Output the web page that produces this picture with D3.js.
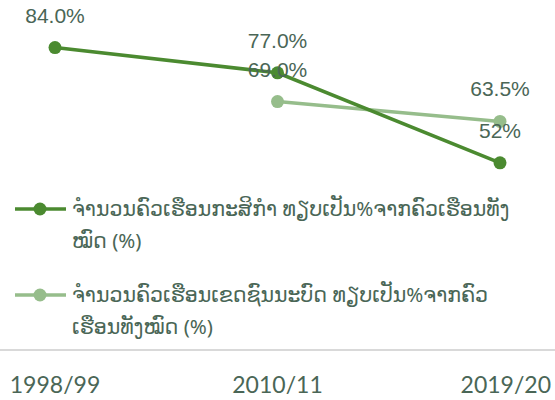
<!DOCTYPE html>
<html>
<head>
<meta charset="utf-8">
<script src="https://cdn.jsdelivr.net/npm/d3@7"></script>
<style>
  body { margin: 0; background: #fff; }
</style>
</head>
<body>
<div id="chart"></div>
<script>
// données
const categories = ["1998/99", "2010/11", "2019/20"];
const agriValues = [84.0, 77.0, 52];
const agriLabels = ["84.0%", "77.0%", "52%"];
const ruralCategories = ["2010/11", "2019/20"];
const ruralValues = [69.0, 63.5];
const ruralLabels = ["69.0%", "63.5%"];
const legendLines = [
  ["ຈຳນວນຄົວເຮືອນກະສິກຳ ທຽບເປັນ%ຈາກຄົວເຮືອນທັງ", "ໝົດ (%)"],
  ["ຈຳນວນຄົວເຮືອນເຂດຊົນນະບົດ ທຽບເປັນ%ຈາກຄົວ", "ເຮືອນທັງໝົດ (%)"]
];

const width = 555, height = 400;
const darkGreen = "#4b8a30", lightGreen = "#96bd8b", textColor = "#4a6656";

const svg = d3.select("#chart").append("svg")
  .attr("width", width).attr("height", height);

const x = d3.scalePoint().domain(categories).range([55, 500]);
const y = d3.scaleLinear().domain([0, 100]).range([350, -10]);

const line = d3.line().x(d => x(d.c)).y(d => y(d.v));

const series = [
  { color: darkGreen, pts: categories.map((c, i) => ({ c, v: agriValues[i], t: agriLabels[i] })) },
  { color: lightGreen, pts: ruralCategories.map((c, i) => ({ c, v: ruralValues[i], t: ruralLabels[i] })) }
];

// bottom axis line
svg.append("line")
  .attr("x1", 0).attr("x2", width)
  .attr("y1", 350).attr("y2", 350)
  .attr("stroke", "#d9d9d9").attr("stroke-width", 2);

// lines + dots (light series drawn first, dark on top)
series.slice().reverse().forEach(s => {
  svg.append("path")
    .datum(s.pts)
    .attr("d", line)
    .attr("fill", "none")
    .attr("stroke", s.color)
    .attr("stroke-width", 3.5);
  svg.selectAll(null).data(s.pts).join("circle")
    .attr("cx", d => x(d.c)).attr("cy", d => y(d.v))
    .attr("r", 6.5).attr("fill", s.color);
});

// data labels
series.forEach(s => {
  svg.selectAll(null).data(s.pts).join("text")
    .attr("x", d => x(d.c))
    .attr("y", d => y(d.v) - 25)
    .attr("text-anchor", "middle")
    .attr("font-family", "'Liberation Sans', Arial, sans-serif")
    .attr("font-size", 21)
    .attr("fill", textColor)
    .text(d => d.t);
});

// x labels
svg.selectAll(null).data(categories).join("text")
  .attr("x", (d, i) => i === categories.length - 1 ? width - 4 : x(d))
  .attr("y", 393)
  .attr("text-anchor", (d, i) => i === categories.length - 1 ? "end" : "middle")
  .attr("font-family", "Lato, 'Open Sans', sans-serif")
  .attr("font-size", 23)
  .attr("fill", textColor)
  .text(d => d);

// legend
const legendY = [209, 295];
series.forEach((s, i) => {
  const g = svg.append("g").attr("transform", `translate(0,${legendY[i]})`);
  g.append("line").attr("x1", 15).attr("x2", 66).attr("y1", 0).attr("y2", 0)
    .attr("stroke", s.color).attr("stroke-width", 3.5);
  g.append("circle").attr("cx", 40).attr("cy", 0).attr("r", 6.5).attr("fill", s.color);
  const t = g.append("text")
    .attr("font-family", "'Noto Sans', 'DejaVu Sans', sans-serif")
    .attr("font-size", 20.5)
    .attr("fill", textColor);
  legendLines[i].forEach((l, j) => {
    t.append("tspan").attr("x", 72).attr("y", 7 + j * 32).text(l);
  });
});
</script>
</body>
</html>
